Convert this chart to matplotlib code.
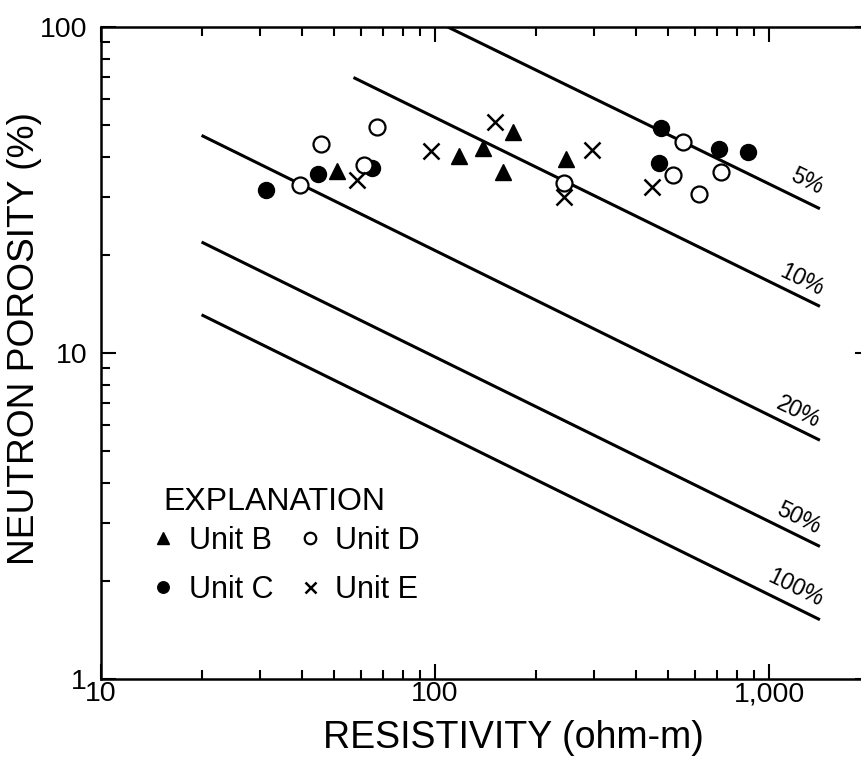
import matplotlib
matplotlib.use('Agg')
import matplotlib.pyplot as plt

# Data
unit_b_res = [50.9, 118, 139, 171, 160, 247]
unit_b_por = [36.2, 40.2, 42.6, 47.6, 35.9, 39.4]

unit_c_res = [31.2, 44.6, 64.8, 475, 709, 865, 469]
unit_c_por = [31.6, 35.4, 36.9, 49.0, 42.3, 41.4, 38.3]

unit_d_res = [39.4, 45.6, 67.1, 61.3, 243, 553, 516, 617, 718]
unit_d_por = [32.8, 43.8, 49.4, 37.7, 33.2, 44.4, 35.2, 30.7, 35.9]

unit_e_res = [58.4, 97.3, 151, 243, 295, 446]
unit_e_por = [33.9, 41.6, 51.1, 30.1, 41.9, 32.3]

# Reference lines: (start, end) for resistivity and porosity
line_names = ['5%', '10%', '20%', '50%', '100%']
line_res = [(100, 1420), (57, 1420), (20, 1420), (20, 1420), (20, 1420)]
line_por = [(104.5, 27.7), (70, 13.9), (46.5, 5.4), (21.9, 2.55), (13.1, 1.52)]
label_res = [1300, 1256, 1221, 1230, 1196]
label_por = [33.5, 16.7, 6.59, 3.12, 1.90]

x_ticks = [10, 100, 1000]
x_tick_labels = ['10', '100', '1,000']
y_ticks = [1, 10, 100]
y_tick_labels = ['1', '10', '100']

W, H = 861, 768


def main():
    plt.rcParams['font.family'] = ['Liberation Sans', 'DejaVu Sans']

    fig = plt.figure(figsize=(W / 100, H / 100), dpi=100)
    ax = fig.add_axes([101 / W, 89 / H, 768.6 / W, 652 / H])
    ax.set_xscale('log')
    ax.set_yscale('log')
    ax.set_xlim(10, 2000)
    ax.set_ylim(1, 100)

    for i, name in enumerate(line_names):
        ax.plot(line_res[i], line_por[i], '-', color='black', linewidth=2.2,
                solid_capstyle='butt', zorder=2)
        ax.text(label_res[i], label_por[i], name, rotation=-26, fontsize=16.5,
                ha='center', va='center', rotation_mode='anchor')

    ms = 11.5
    ax.plot(unit_b_res, unit_b_por, '^', color='black', markersize=ms,
            linestyle='none', label='Unit B', zorder=3)
    ax.plot(unit_c_res, unit_c_por, 'o', color='black', markersize=ms,
            linestyle='none', label='Unit C', zorder=3)
    ax.plot(unit_d_res, unit_d_por, 'o', markerfacecolor='white',
            markeredgecolor='black', markeredgewidth=1.6, markersize=ms,
            linestyle='none', label='Unit D', zorder=3)
    ax.plot(unit_e_res, unit_e_por, 'x', color='black', markersize=ms - 0.5,
            markeredgewidth=1.8, linestyle='none', label='Unit E', zorder=3)

    ax.set_xticks(x_ticks)
    ax.set_xticklabels(x_tick_labels)
    ax.set_yticks(y_ticks)
    ax.set_yticklabels(y_tick_labels)

    ax.tick_params(which='both', direction='in', top=True, right=True,
                   width=1.5, colors='black')
    ax.tick_params(which='major', length=11, labelsize=20.5)
    ax.tick_params(which='minor', length=6.5)
    ax.tick_params(axis='x', which='major', pad=1.5)
    ax.tick_params(axis='y', which='major', pad=10)

    for sp in ax.spines.values():
        sp.set_linewidth(1.8)

    ax.legend(ncol=2, loc='upper left',
              bbox_to_anchor=(148 / W, 1 - 526 / H),
              bbox_transform=fig.transFigure, frameon=False,
              fontsize=22, markerscale=0.72, handlelength=1.0,
              handletextpad=0.33, columnspacing=0.7,
              labelspacing=0.62, borderpad=0, borderaxespad=0)

    fig.text(163 / W, 1 - 510 / H, 'EXPLANATION', fontsize=23,
             ha='left', va='baseline')

    fig.text(513 / W, 1 - 748 / H, 'RESISTIVITY (ohm-m)', fontsize=27,
             ha='center', va='baseline')
    fig.text(25 / W, 1 - 339 / H, 'NEUTRON POROSITY (%)', fontsize=26.7,
             rotation=90, ha='center', va='center')

    fig.savefig('out.png', dpi=100)


if __name__ == '__main__':
    main()
